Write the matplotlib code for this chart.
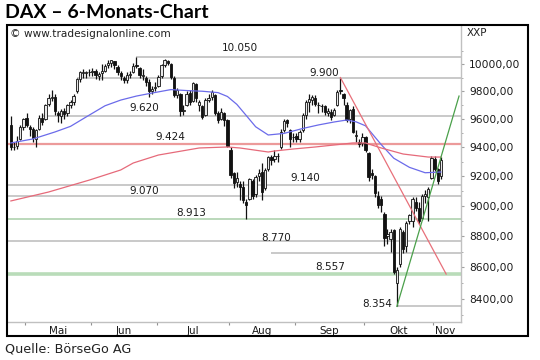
import numpy as np
import matplotlib
matplotlib.use("Agg")
import matplotlib.pyplot as plt
from matplotlib.ticker import FixedLocator, NullFormatter, FixedFormatter
from matplotlib.patches import Rectangle

# ---------------- data (DAX daily, 24 Apr 2014 .. 5 Nov 2014) ----------------
opens = [9560, 9400, 9410, 9460, 9540,
         9610, 9540, 9530, 9460, 9530, 9610, 9600, 9710, 9750, 9760, 9640, 9620, 9660, 9640, 9700, 9720,
         9800, 9890, 9930, 9930, 9940,
         9940, 9950, 9910, 9930, 9950, 9990, 10010, 10020, 9980, 9930, 9900, 9880, 9920, 9940, 9990,
         9970, 9910, 9900, 9870, 9800, 9820,
         9840, 9910, 9990, 10020, 10000, 9900, 9770, 9780, 9660, 9700, 9790, 9730, 9850, 9700, 9690,
         9630, 9740, 9760, 9770, 9640, 9600, 9640, 9590,
         9380, 9220, 9160, 9150, 9130, 9030, 9050, 9170, 9080, 9200, 9230, 9120, 9250, 9330, 9320, 9340,
         9400, 9520, 9590, 9520, 9470,
         9480, 9460, 9520, 9630, 9720, 9740, 9750, 9700, 9690, 9690, 9640, 9650, 9630, 9700, 9810,
         9780, 9700, 9600, 9670, 9480, 9440, 9430,
         9470, 9360, 9220, 9200, 9070, 9050, 8950, 8800, 8780, 8840, 8500, 8620, 8830, 8740, 8900,
         8900, 9030, 8990, 8920, 9070, 9060, 9190,
         9320, 9250, 9200]
highs = [9620, 9440, 9480, 9555, 9610,
         9640, 9560, 9545, 9530, 9630, 9640, 9710, 9780, 9810, 9780, 9660, 9670, 9680, 9710, 9740, 9780,
         9900, 9950, 9960, 9950, 9960,
         9970, 9960, 9940, 10000, 10000, 10030, 10030, 10025, 9990, 9950, 9910, 9940, 9950, 10010, 10050,
         9980, 9960, 9910, 9890, 9840, 9870,
         9920, 10000, 10035, 10030, 10010, 9910, 9820, 9790, 9700, 9800, 9810, 9870, 9860, 9740, 9700,
         9750, 9780, 9810, 9780, 9660, 9680, 9650, 9600,
         9400, 9230, 9230, 9170, 9170, 9050, 9190, 9180, 9210, 9250, 9290, 9260, 9340, 9350, 9380, 9360,
         9530, 9600, 9600, 9530, 9500,
         9500, 9520, 9640, 9740, 9780, 9770, 9770, 9720, 9710, 9700, 9680, 9670, 9680, 9810, 9900,
         9790, 9720, 9670, 9690, 9520, 9460, 9500,
         9480, 9370, 9250, 9210, 9100, 9070, 8960, 8850, 8850, 8850, 8600, 8860, 8840, 8900, 8950,
         9060, 9060, 9030, 9080, 9110, 9130, 9340,
         9340, 9260, 9330]
lows = [9380, 9380, 9390, 9450, 9520,
        9540, 9480, 9440, 9400, 9520, 9560, 9590, 9690, 9730, 9630, 9580, 9570, 9600, 9620, 9680, 9700,
        9790, 9870, 9900, 9900, 9910,
        9910, 9890, 9880, 9880, 9940, 9970, 9980, 9960, 9920, 9880, 9860, 9860, 9900, 9930, 9970,
        9900, 9880, 9840, 9760, 9780, 9800,
        9830, 9900, 9980, 9990, 9890, 9760, 9750, 9620, 9630, 9690, 9700, 9720, 9720, 9660, 9600,
        9620, 9720, 9740, 9630, 9570, 9590, 9550, 9400,
        9190, 9120, 9130, 9040, 9020, 8913, 9040, 9050, 9060, 9170, 9040, 9110, 9240, 9280, 9300, 9300,
        9390, 9510, 9540, 9400, 9440,
        9440, 9440, 9510, 9600, 9650, 9700, 9690, 9640, 9650, 9630, 9620, 9590, 9620, 9690, 9780,
        9700, 9580, 9570, 9500, 9440, 9400, 9410,
        9370, 9170, 9180, 9060, 8990, 8960, 8740, 8750, 8700, 8560, 8354, 8600, 8690, 8700, 8880,
        8860, 8970, 8880, 8910, 9020, 8900, 9180,
        9240, 9150, 9180]
closes = [9402, 9401, 9446, 9543, 9603,
          9556, 9529, 9467, 9521, 9607, 9581, 9703, 9754, 9755, 9656, 9629, 9660, 9639, 9697, 9721, 9768,
          9892, 9940, 9939, 9938, 9943,
          9950, 9920, 9926, 9947, 9987, 10008, 10028, 9990, 9938, 9912, 9883, 9920, 9928, 9987, 9987,
          9920, 9922, 9867, 9805, 9815, 9833,
          9902, 9990, 10029, 10009, 9906, 9772, 9808, 9659, 9666, 9783, 9719, 9859, 9753, 9720, 9612,
          9734, 9753, 9797, 9644, 9593, 9653, 9593, 9407,
          9210, 9154, 9189, 9130, 9039, 9010, 9180, 9069, 9198, 9225, 9092, 9245, 9334, 9314, 9339, 9339,
          9510, 9588, 9569, 9462, 9470,
          9460, 9507, 9626, 9724, 9747, 9758, 9710, 9700, 9691, 9651, 9660, 9614, 9661, 9798, 9799,
          9749, 9595, 9661, 9510, 9490, 9422, 9474,
          9382, 9195, 9209, 9086, 9005, 9005, 8788, 8812, 8825, 8572, 8582, 8850, 8717, 8886, 8940,
          9048, 8988, 8902, 9068, 9083, 9114, 9326,
          9251, 9167, 9315]

# moving averages (trading-day index, value)
ma_fast_idx = [0, 7, 14, 19, 24, 30, 35, 40, 45, 51, 56, 61, 66, 69, 72, 75, 78, 82, 87, 93,
               98, 103, 107, 110, 113, 118, 122, 127, 132, 137]
ma_fast_val = [9431, 9459, 9508, 9548, 9615, 9695, 9736, 9765, 9787, 9812, 9805, 9800, 9790, 9762,
               9705, 9625, 9545, 9487, 9498, 9533, 9558, 9579, 9593, 9580, 9552, 9420, 9325, 9262,
               9225, 9230]
ma_slow_idx = [0, 12, 25, 35, 39, 47, 60, 69, 73, 82, 84, 90, 97, 103, 109, 113, 118, 125, 133, 137]
ma_slow_val = [9034, 9094, 9175, 9244, 9292, 9347, 9396, 9403, 9396, 9368, 9375, 9389, 9403, 9417,
               9431, 9431, 9396, 9354, 9333, 9333]

# horizontal support / resistance levels
levels = [10050, 9900, 9620, 9424, 9140, 9070, 8913, 8770, 8690, 8557, 8354]
level_from = [40, 21, 10, None, None, None, None, None, 83, None, 123]   # first day of line
level_kind = ['grey', 'grey', 'grey', 'red', 'grey', 'grey', 'green', 'grey', 'grey', 'green2', 'grey']
level_labeled = [True, True, True, True, True, True, True, True, False, True, True]

# trend lines (day index, value)
down_trend = ([105, 138.7], [9900, 8557])
up_trend = ([123, 142.8], [8354, 9765])

tick_values = [8400, 8600, 8800, 9000, 9200, 9400, 9600, 9800, 10000]
minor_values = [8300, 8500, 8700, 8900, 9100, 9300, 9500, 9700, 9900, 10100]
month_names = ['Mai', 'Jun', 'Jul', 'Aug', 'Sep', 'Okt', 'Nov']
month_bounds = [4.5, 25.5, 46.5, 69.5, 90.5, 112.5, 134.5]

# ---------------- layout / style ----------------
W, H = 540, 360
fig = plt.figure(figsize=(W / 100, H / 100), dpi=100)
ax_l, ax_r, ax_t, ax_b = 8, 461, 26, 322
ax = fig.add_axes([ax_l / W, 1 - ax_b / H, (ax_r - ax_l) / W, (ax_b - ax_t) / H])

label_pos = {10050: (73, 10119), 9900: (99.8, 9933), 9620: (42.4, 9679), 9424: (50.7, 9473),
             9140: (93.7, 9189), 9070: (42.4, 9101), 8913: (57.4, 8954), 8770: (84.5, 8787),
             8557: (101.7, 8602), 8354: (116.7, 8369)}
kind_style = {'grey': dict(color='#c9c9c9', lw=1.4),
              'red': dict(color='#ec9a9a', lw=1.6),
              'green': dict(color='#b5d6b5', lw=1.3),
              'green2': dict(color='#b9dcb9', lw=2.6)}

x_min, x_max = -0.92, 143.43
ax.set_yscale('log')
ax.set_xlim(x_min, x_max)
ax.set_ylim(8258, 10286)

for lv, fr, kd, lab in zip(levels, level_from, level_kind, level_labeled):
    x0 = x_min if fr is None else fr
    ax.plot([x0, x_max], [lv, lv], solid_capstyle='butt', zorder=1, **kind_style[kd])
    if lab:
        tx, ty = label_pos[lv]
        ax.text(tx, ty, f"{lv:,}".replace(",", "."), fontsize=7.5, ha='center', va='center',
                color='#1a1a1a', zorder=6)

idx = np.arange(len(closes))
o = np.array(opens, float); c = np.array(closes, float)
h = np.array(highs, float); l = np.array(lows, float)
ax.vlines(idx, l, h, color='#111111', lw=0.9, zorder=3)
up = c >= o
bot = np.minimum(o, c); top = np.maximum(o, c)
hgt = np.maximum(top - bot, 3)
ax.bar(idx[up], hgt[up], bottom=bot[up], width=0.75, color='#e8e8e8', edgecolor='#111111', lw=0.6, zorder=3)
ax.bar(idx[~up], hgt[~up], bottom=bot[~up], width=0.75, color='#111111', edgecolor='#111111', lw=0.6, zorder=3)

ax.plot(ma_fast_idx, ma_fast_val, color='#6b6bea', lw=0.9, zorder=4)
ax.plot(ma_slow_idx, ma_slow_val, color='#e66a7a', lw=0.9, zorder=4)
ax.plot(*down_trend, color='#e8707a', lw=0.9, zorder=4)
ax.plot(*up_trend, color='#4aa04a', lw=0.9, zorder=4)

# axes cosmetics
for s in ['left', 'top']:
    ax.spines[s].set_visible(False)
for s in ['right', 'bottom']:
    ax.spines[s].set_color('#c0c0c0')
    ax.spines[s].set_linewidth(1.0)
ax.yaxis.tick_right()
ax.yaxis.set_major_locator(FixedLocator(tick_values))
ax.yaxis.set_major_formatter(FixedFormatter([f"{v:.2f}".replace(".", ",") for v in tick_values]))
ax.yaxis.set_minor_locator(FixedLocator(minor_values))
ax.yaxis.set_minor_formatter(NullFormatter())
ax.tick_params(axis='y', which='major', labelsize=7.7, length=2, color='#a0a0a0', pad=4, labelcolor='#1a1a1a')
ax.tick_params(axis='y', which='minor', length=1.5, color='#a0a0a0')

month_centers = [15, 36, 58, 80, 101.5, 123.5, 138.3]
ax.xaxis.set_major_locator(FixedLocator(month_bounds))
ax.xaxis.set_major_formatter(NullFormatter())
ax.xaxis.set_minor_locator(FixedLocator(month_centers))
ax.xaxis.set_minor_formatter(FixedFormatter(month_names))
ax.tick_params(axis='x', which='major', length=2.5, color='#909090')
ax.tick_params(axis='x', which='minor', length=0, labelsize=7.5, pad=3, labelcolor='#1a1a1a')

# outer frame
fig.patches.append(Rectangle((7 / W, 1 - 336 / H), 521 / W, 311 / H, transform=fig.transFigure,
                             fill=False, edgecolor='black', lw=1.5, zorder=10))

fig.text(5 / W, 1 - 12 / H, "DAX – 6-Monats-Chart", fontsize=14, fontweight='bold',
         family=['Lato', 'DejaVu Sans'], va='center', ha='left')
fig.text(5 / W, 1 - 349 / H, "Quelle: BörseGo AG", fontsize=9.2,
         family=['Liberation Sans Narrow', 'DejaVu Sans'], va='center', ha='left', color='#222222')
fig.text(10 / W, 1 - 34 / H, "© www.tradesignalonline.com", fontsize=7.6, va='center', ha='left',
         color='#222222')
fig.text(467 / W, 1 - 33 / H, "XXP", fontsize=7.5, va='center', ha='left', color='#222222')

fig.savefig("out.png", dpi=100)
